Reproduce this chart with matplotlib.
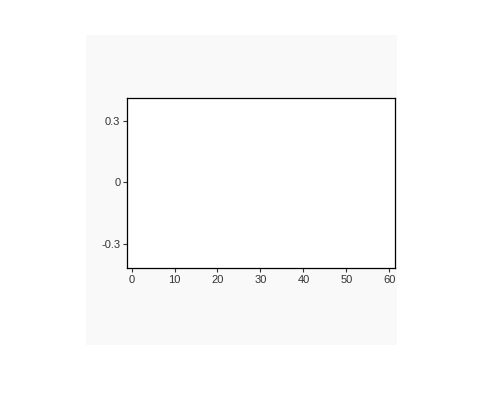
import matplotlib
matplotlib.use('Agg')
import matplotlib.pyplot as plt
from matplotlib.patches import Rectangle

plt.rcParams['font.family'] = ['Liberation Sans', 'DejaVu Sans']

# axis ticks of the (empty) chart
X_TICKS = [0, 10, 20, 30, 40, 50, 60]
Y_TICKS = [-0.3, 0, 0.3]
Y_TICK_LABELS = ['-0.3', '0', '0.3']
X_RANGE = [-1.0, 61.4]
Y_RANGE = [-0.418, 0.409]

W, H = 483, 419
fig = plt.figure(figsize=(W / 100, H / 100), dpi=100, facecolor='white')

# light grey panel behind the plot
fig.patches.append(Rectangle((86 / W, 1 - 345 / H), (397 - 86) / W, (345 - 35) / H,
                             transform=fig.transFigure, facecolor='#f9f9f9',
                             edgecolor='none', zorder=-1))

ax = fig.add_axes([127.3 / W, 1 - 268.3 / H, (395.3 - 127.3) / W, (268.3 - 98.3) / H])
ax.set_facecolor('white')
ax.set_xlim(X_RANGE)
ax.set_ylim(Y_RANGE)
ax.set_xticks(X_TICKS)
ax.set_xticklabels([str(t) for t in X_TICKS])
ax.set_yticks(Y_TICKS)
ax.set_yticklabels(Y_TICK_LABELS)

for s in ax.spines.values():
    s.set_color('black')
    s.set_linewidth(0.9)

ax.tick_params(axis='both', which='both', length=3, width=0.8, color='#333333',
               labelsize=8, labelcolor='#333333', pad=2)

fig.savefig('out.png', dpi=100)
